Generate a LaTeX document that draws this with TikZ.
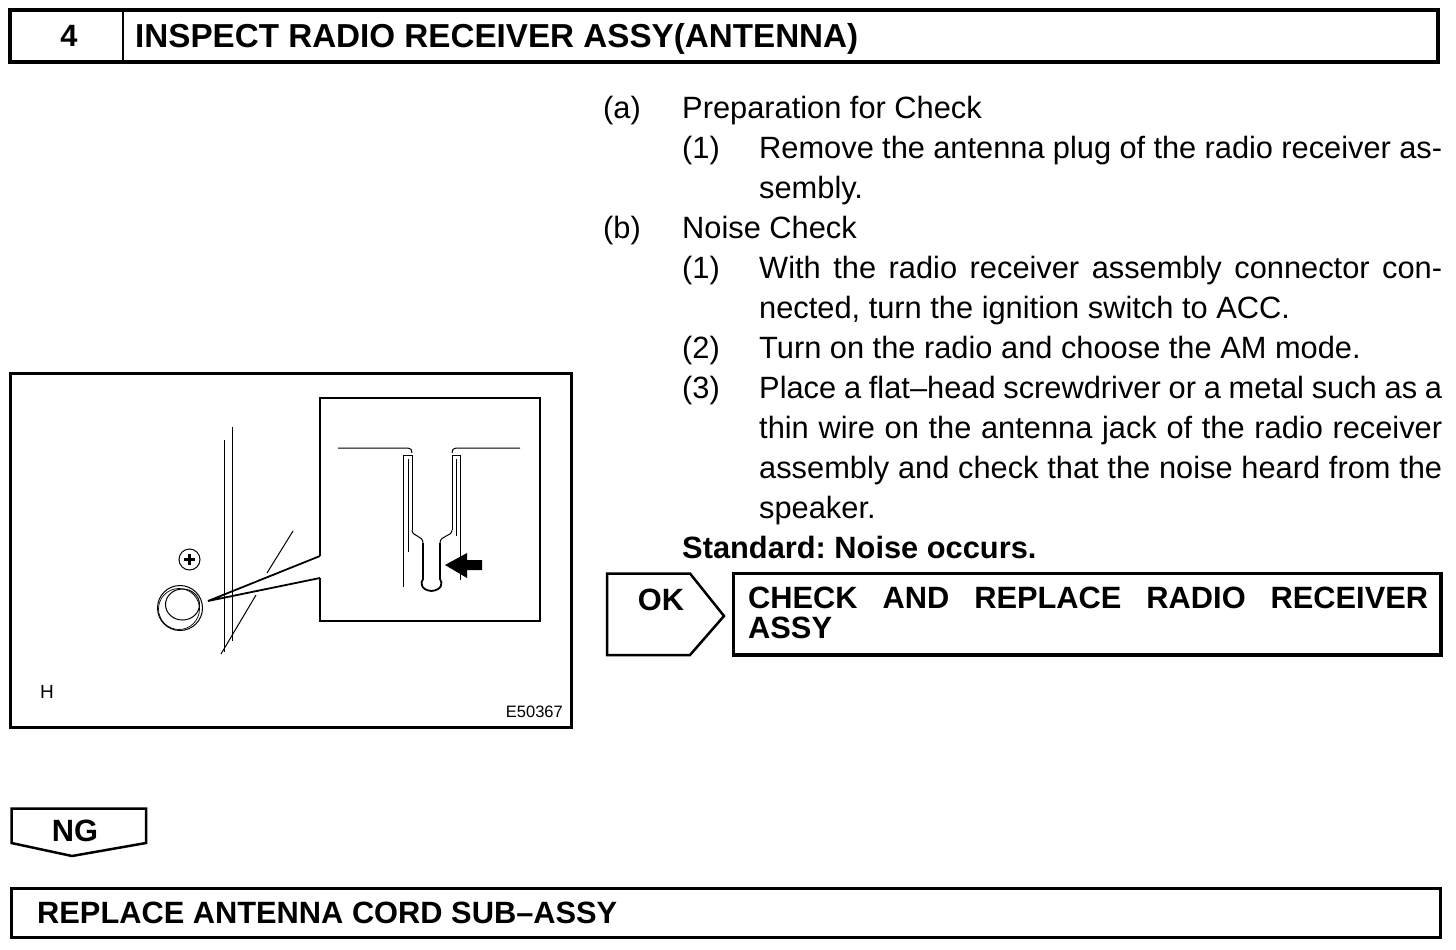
\documentclass[tikz,border=0pt]{standalone}
\usepackage{fontspec}
\setmainfont{Liberation Sans}
\frenchspacing
\newcommand\txtsz{\fontsize{30.8}{40}\selectfont}
\newcommand\hdsz{\fontsize{33.2}{40}\selectfont}
\begin{document}
\begin{tikzpicture}[x=1pt,y=-1pt,
  hdbox/.style={line width=3.5pt},
  figframe/.style={line width=3pt},
  insetframe/.style={line width=2pt},
  fineline/.style={line width=1pt},
  leader/.style={line width=1.8pt},
  txt/.style={anchor=base west, inner sep=0pt, font=\txtsz},
  btxt/.style={anchor=base west, inner sep=0pt, font=\txtsz\bfseries},
  jtxt/.style={anchor=base west, inner sep=0pt, font=\txtsz},
]
\useasboundingbox (0,0) rectangle (1456,950);

% ---------- header ----------
\draw[hdbox] (10,10) rectangle (1438,62);
\draw[line width=2.5pt] (123,10) -- (123,62);
\node[btxt, anchor=base] (num) at (69,47) {4};
\node[btxt, font=\hdsz\bfseries] (title) at (135,48) {INSPECT RADIO RECEIVER ASSY(ANTENNA)};

% ---------- figure ----------
\draw[figframe] (10,373) rectangle (571,727);
\coordinate (insA) at (320,556);
\coordinate (insB) at (320,578);
\coordinate (lp) at (208,601);
\draw[insetframe] (insA) -- (320,398) -- (540,398) -- (540,621) -- (320,621) -- (insB);
\draw[leader] (insA) -- (lp) -- (insB);
% panel edges
\draw[fineline] (224,440) -- (224,652);
\draw[fineline] (232,427) -- (232,641);
\draw[fineline] (293,531) -- (267,573);
\draw[fineline] (256,595) -- (221,654);
% screw
\draw[fineline] (189.5,559.5) circle (10.5);
\draw[line width=2.6pt] (184,559.5) -- (195,559.5) (189.5,554) -- (189.5,565);
% jack
\draw[fineline] (180,608) circle (22.5);
\draw[line width=0.7pt] (179,609) circle (20.5);
\draw[fineline] (182.5,604.5) ellipse (17 and 15.5);
% inset detail
\draw[fineline] (338,448) -- (408,448) .. controls (411,448) and (412,450) .. (412,453);
\draw[fineline] (452,453) .. controls (452,450) and (453,448) .. (456,448) -- (520,448);
\draw[fineline] (403,587) -- (403,455) -- (412,455) -- (412,530);
\draw[fineline] (408,459) -- (408,552);
\draw[fineline] (452,530) -- (452,455) -- (460,455) -- (460,580);
\draw[fineline] (456,459) -- (456,536);
\draw[fineline] (412,530) .. controls (412,537) and (423,535) .. (423,543);
\draw[fineline] (440,543) .. controls (440,535) and (452,537) .. (452,530);
\draw[line width=1.8pt] (423,543) -- (423,579) .. controls (420,583) and (421,590) .. (431.5,591)
   .. controls (442,590) and (443,583) .. (440,579) -- (440,543);
\fill (445,565) -- (467,553) -- (467,560) -- (482,560) -- (482,570) -- (467,570) -- (467,578) -- cycle;
\node[anchor=base west, inner sep=0pt, font=\fontsize{19}{20}\selectfont] (hlbl) at (40,698) {H};
\node[anchor=base east, inner sep=0pt, font=\fontsize{16.5}{18}\selectfont] (code) at (563,717) {E50367};

% ---------- text ----------
\node[txt] (a) at (603,118) {(a)};
\node[txt] (at) at (682,118) {Preparation for Check};
\node[txt] (a1) at (682,158) {(1)};
\node[jtxt] (a1t) at (759,158) {\makebox[683pt][s]{Remove the antenna plug of the radio receiver as-}};
\node[txt] (a1u) at (759,198) {sembly.};
\node[txt] (b) at (603,238) {(b)};
\node[txt] (bt) at (682,238) {Noise Check};
\node[txt] (b1) at (682,278) {(1)};
\node[jtxt] (b1t) at (759,278) {\makebox[683pt][s]{With the radio receiver assembly connector con-}};
\node[txt] (b1u) at (759,318) {nected, turn the ignition switch to ACC.};
\node[txt] (b2) at (682,358) {(2)};
\node[txt] (b2t) at (759,358) {Turn on the radio and choose the AM mode.};
\node[txt] (b3) at (682,398) {(3)};
\node[jtxt] (b3t) at (759,398) {\makebox[683pt][s]{Place a flat–head screwdriver or a metal such as a}};
\node[jtxt] (b3u) at (759,438) {\makebox[683pt][s]{thin wire on the antenna jack of the radio receiver}};
\node[jtxt] (b3v) at (759,478) {\makebox[683pt][s]{assembly and check that the noise heard from the}};
\node[txt] (b3w) at (759,518) {speaker.};
\node[btxt] (std) at (682,558) {Standard: Noise occurs.};

% ---------- OK branch ----------
\draw[line width=2.5pt] (607,573.5) -- (690,573.5) -- (724,616) -- (690,655) -- (607,655) -- cycle;
\node[btxt, anchor=base] (ok) at (661,610) {OK};
\draw[hdbox] (733.5,573.5) rectangle (1441,655);
\node[btxt] (okt1) at (748,608.5) {\makebox[680pt][s]{CHECK AND REPLACE RADIO RECEIVER}};
\node[btxt] (okt2) at (748,638.5) {ASSY};

% ---------- NG branch ----------
\draw[line width=2.5pt] (11.5,808.5) -- (146,808.5) -- (146,843) -- (72,856) -- (11.5,843) -- cycle;
\node[btxt, anchor=base] (ng) at (75,841) {NG};
\draw[figframe] (11.5,888) rectangle (1440,937);
\node[btxt] (ngt) at (37,923) {REPLACE ANTENNA CORD SUB–ASSY};
\end{tikzpicture}
\end{document}
